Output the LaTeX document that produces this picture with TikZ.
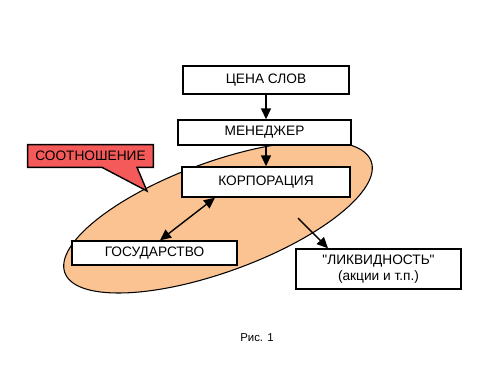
\documentclass[tikz,border=0pt]{standalone}
\usepackage{fontspec}
\setmainfont{Liberation Sans}[Ligatures=TeXOff]
\usetikzlibrary{arrows.meta,positioning,shapes.geometric,calc}
\definecolor{peach}{RGB}{250,195,145}
\definecolor{coral}{RGB}{245,90,90}
\tikzset{
  >={Triangle[length=2.2mm,width=2mm]},
  box/.style={draw=black,fill=white,line width=0.8pt,align=center,
    font=\fontsize{7.8}{9.5}\selectfont,inner sep=1pt},
  link/.style={->,line width=0.8pt,draw=black},
}
\begin{document}
\begin{tikzpicture}[x=0.02cm,y=-0.02cm]
  \useasboundingbox (0,0) rectangle (500,375);
  % area of the relations
  \node[ellipse,draw=black,fill=peach,line width=0.6pt,rotate=20,
    minimum width=6.52cm,minimum height=2.2cm] (obl) at (218,217) {};
  % callout
  \node[minimum width=2.5cm,minimum height=0.44cm,inner sep=1pt] (sootn) at (90.5,156) {};
  \coordinate (ostr) at (147,191);
  \draw[fill=coral,line width=0.8pt] (sootn.north west) -- (sootn.north east)
    -- (sootn.south east) -- ([xshift=0.93cm]sootn.south) -- (ostr)
    -- ([xshift=0.23cm]sootn.south) -- (sootn.south west) -- cycle;
  \node[font=\fontsize{7.8}{9.5}\selectfont] (sootntxt) at (sootn) {СООТНОШЕНИЕ};
  % boxes
  \node[box,minimum width=3.32cm,minimum height=0.56cm] (cena) at (266,80) {ЦЕНА СЛОВ};
  \node[box,minimum width=3.46cm,minimum height=0.5cm] (men) at (264.5,132.5) {МЕНЕДЖЕР};
  \node[box,minimum width=3.36cm,minimum height=0.6cm] (korp) at (266,182) {КОРПОРАЦИЯ};
  \node[box,minimum width=3.3cm,minimum height=0.48cm] (gos) at (154.5,253) {ГОСУДАРСТВО};
  \node[box,minimum width=3.3cm,minimum height=0.8cm] (liq) at (378.5,269) {\textquotedbl ЛИКВИДНОСТЬ\textquotedbl\\(акции и т.п.)};
  \coordinate (vyh) at (298,218);
  % arrows
  \draw[link] (cena.south) -- (cena.south |- men.north);
  \draw[link] (korp.north |- men.south) -- (korp.north);
  \draw[link,<->] ([xshift=0.11cm]gos.north) -- ([xshift=-1.02cm]korp.south);
  \draw[link] (vyh) -- ([xshift=-1.01cm]liq.north);
  \node[font=\fontsize{6.5}{8}\selectfont] (ris) at (257,338) {Рис. 1};
\end{tikzpicture}
\end{document}
